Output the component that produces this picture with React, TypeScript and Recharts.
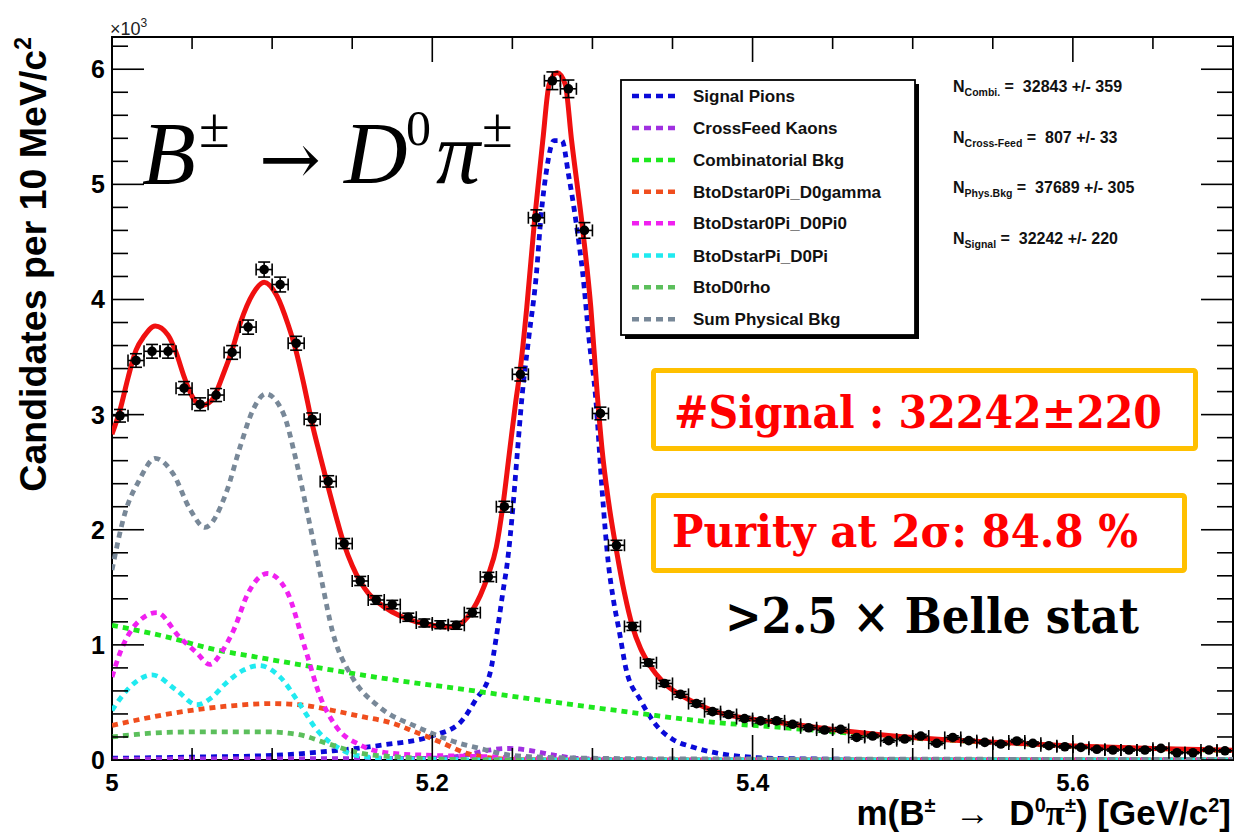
import React from 'react';
import { ComposedChart, Line, Scatter, ErrorBar, XAxis, YAxis, ReferenceArea } from 'recharts';

const W = 1234;
const H = 836;
const PLOT = { left: 112, top: 37, right: 1233, bottom: 760 };
const X_DOMAIN: [number, number] = [5.0, 5.7];
const Y_DOMAIN: [number, number] = [0, 6280];

const SANS = '"Liberation Sans", Arial, Helvetica, sans-serif';
const SERIF = '"Liberation Serif", "Times New Roman", serif';

// axis ticks (minor + major)
const xTicks = [5, 5.05, 5.1, 5.15, 5.2, 5.25, 5.3, 5.35, 5.4, 5.45, 5.5, 5.55, 5.6, 5.65];
const xMajor = [5, 5.2, 5.4, 5.6];
const yTicks = [
  0, 200, 400, 600, 800, 1000, 1200, 1400, 1600, 1800, 2000, 2200, 2400, 2600, 2800, 3000,
  3200, 3400, 3600, 3800, 4000, 4200, 4400, 4600, 4800, 5000, 5200, 5400, 5600, 5800, 6000, 6200,
];
const yMajor = [0, 1000, 2000, 3000, 4000, 5000, 6000];

// data histogram, 10 MeV bins
const binCenters = [
  5.005, 5.015, 5.025, 5.035, 5.045, 5.055, 5.065, 5.075, 5.085, 5.095,
  5.105, 5.115, 5.125, 5.135, 5.145, 5.155, 5.165, 5.175, 5.185, 5.195,
  5.205, 5.215, 5.225, 5.235, 5.245, 5.255, 5.265, 5.275, 5.285, 5.295,
  5.305, 5.315, 5.325, 5.335, 5.345, 5.355, 5.365, 5.375, 5.385, 5.395,
  5.405, 5.415, 5.425, 5.435, 5.445, 5.455, 5.465, 5.475, 5.485, 5.495,
  5.505, 5.515, 5.525, 5.535, 5.545, 5.555, 5.565, 5.575, 5.585, 5.595,
  5.605, 5.615, 5.625, 5.635, 5.645, 5.655, 5.665, 5.675, 5.685, 5.695,
];
const binCounts = [
  2990, 3470, 3550, 3550, 3230, 3090, 3170, 3540, 3760, 4260,
  4130, 3620, 2960, 2420, 1880, 1555, 1390, 1350, 1240, 1190,
  1175, 1170, 1280, 1590, 2200, 3350, 4710, 5900, 5830, 4600,
  3010, 1865, 1160, 845, 665, 570, 490, 420, 395, 360,
  340, 340, 310, 280, 260, 266, 196, 208, 168, 182,
  208, 145, 196, 168, 153, 139, 165, 145, 124, 115,
  110, 93, 87, 87, 87, 101, 63, 63, 87, 80,
];

// fit curves, [mass, candidates]
const totalFit: [number, number][] = [
  [5.0, 2830], [5.005, 3040], [5.01, 3320], [5.015, 3560], [5.02, 3680], [5.027, 3770],
  [5.035, 3690], [5.04, 3540], [5.045, 3330], [5.05, 3160], [5.056, 3080], [5.062, 3120],
  [5.07, 3370], [5.075, 3560], [5.08, 3790], [5.088, 4050], [5.095, 4150], [5.103, 4030],
  [5.11, 3780], [5.115, 3550], [5.12, 3250], [5.125, 2920], [5.13, 2640], [5.135, 2370],
  [5.14, 2110], [5.145, 1870], [5.15, 1690], [5.155, 1550], [5.16, 1450], [5.17, 1330],
  [5.18, 1250], [5.19, 1200], [5.2, 1170], [5.21, 1155], [5.215, 1165], [5.22, 1210],
  [5.225, 1300], [5.23, 1430], [5.235, 1610], [5.24, 1850], [5.244, 2200], [5.248, 2650],
  [5.252, 3100], [5.255, 3400], [5.259, 3930], [5.264, 4710], [5.269, 5380], [5.273, 5870],
  [5.278, 5970], [5.283, 5870], [5.287, 5380], [5.294, 4600], [5.299, 3930], [5.303, 3180],
  [5.306, 2700], [5.31, 2250], [5.315, 1820], [5.32, 1450], [5.325, 1160], [5.33, 970],
  [5.335, 840], [5.345, 665], [5.355, 565], [5.365, 490], [5.375, 430], [5.385, 390],
  [5.4, 355], [5.42, 320], [5.45, 265], [5.5, 195], [5.55, 155], [5.6, 122], [5.65, 100], [5.7, 85],
];
const signalPions: [number, number][] = [
  [5.0, 15], [5.05, 25], [5.1, 40], [5.138, 80], [5.169, 130], [5.2, 210], [5.217, 320],
  [5.227, 520], [5.236, 750], [5.24, 1070], [5.244, 1450], [5.247, 1730], [5.25, 2140],
  [5.253, 2650], [5.256, 3150], [5.26, 3640], [5.265, 4220], [5.268, 4740], [5.271, 5090],
  [5.276, 5380], [5.281, 5380], [5.285, 5090], [5.29, 4650], [5.294, 4220], [5.298, 3640],
  [5.302, 3150], [5.306, 2350], [5.31, 1700], [5.313, 1400], [5.317, 1100], [5.321, 790],
  [5.33, 520], [5.34, 300], [5.35, 180], [5.362, 115], [5.387, 40], [5.42, 12], [5.5, 4], [5.7, 0],
];
const crossFeedKaons: [number, number][] = [
  [5.0, 8], [5.1, 10], [5.2, 15], [5.22, 40], [5.235, 85], [5.248, 100], [5.26, 85],
  [5.275, 45], [5.29, 15], [5.32, 5], [5.4, 0], [5.7, 0],
];
const combinatorial: [number, number][] = [
  [5.0, 1170], [5.034, 1070], [5.061, 970], [5.096, 880], [5.138, 780], [5.179, 690],
  [5.216, 620], [5.267, 520], [5.329, 405], [5.37, 335], [5.42, 280], [5.45, 245],
  [5.5, 190], [5.55, 152], [5.6, 120], [5.65, 97], [5.7, 82],
];
const dstar0D0gamma: [number, number][] = [
  [5.0, 300], [5.02, 360], [5.044, 420], [5.07, 465], [5.1, 490], [5.12, 475], [5.138, 430],
  [5.155, 380], [5.175, 320], [5.19, 240], [5.206, 150], [5.221, 60], [5.235, 20],
  [5.25, 5], [5.3, 0], [5.7, 0],
];
const dstar0D0pi0: [number, number][] = [
  [5.0, 720], [5.005, 930], [5.015, 1180], [5.028, 1280], [5.042, 1070], [5.053, 930],
  [5.061, 830], [5.069, 950], [5.076, 1130], [5.085, 1450], [5.097, 1620], [5.109, 1470],
  [5.121, 950], [5.13, 550], [5.14, 290], [5.155, 130], [5.173, 60], [5.2, 40], [5.23, 30],
  [5.26, 15], [5.3, 5], [5.4, 0], [5.7, 0],
];
const dstarD0pi: [number, number][] = [
  [5.0, 430], [5.006, 550], [5.015, 680], [5.025, 740], [5.04, 610], [5.053, 480],
  [5.062, 540], [5.071, 665], [5.082, 780], [5.092, 820], [5.105, 720], [5.117, 490],
  [5.128, 260], [5.142, 100], [5.15, 50], [5.17, 15], [5.2, 5], [5.25, 0], [5.7, 0],
];
const d0rho: [number, number][] = [
  [5.0, 200], [5.034, 240], [5.06, 245], [5.096, 245], [5.117, 220], [5.134, 145],
  [5.155, 60], [5.18, 25], [5.2, 10], [5.25, 0], [5.7, 0],
];
const physicalBkg: [number, number][] = [
  [5.0, 1650], [5.008, 2140], [5.017, 2430], [5.027, 2620], [5.038, 2490], [5.049, 2170],
  [5.058, 2020], [5.071, 2310], [5.08, 2720], [5.088, 3040], [5.096, 3180], [5.107, 3010],
  [5.115, 2600], [5.123, 2080], [5.13, 1620], [5.138, 1100], [5.15, 720], [5.167, 460],
  [5.19, 290], [5.2, 230], [5.217, 145], [5.227, 110], [5.25, 40], [5.28, 20], [5.35, 10], [5.7, 5],
];

const components = [
  { name: 'Signal Pions', color: '#0a0ad8', points: signalPions },
  { name: 'CrossFeed Kaons', color: '#a030e0', points: crossFeedKaons },
  { name: 'Combinatorial Bkg', color: '#1ee81e', points: combinatorial },
  { name: 'BtoDstar0Pi_D0gamma', color: '#f04e1e', points: dstar0D0gamma },
  { name: 'BtoDstar0Pi_D0Pi0', color: '#f020f0', points: dstar0D0pi0 },
  { name: 'BtoDstarPi_D0Pi', color: '#20eaf0', points: dstarD0pi },
  { name: 'BtoD0rho', color: '#5cbf5c', points: d0rho },
  { name: 'Sum Physical Bkg', color: '#788898', points: physicalBkg },
];

const fitYields = [
  { sub: 'Combi.', val: '32843 +/- 359' },
  { sub: 'Cross-Feed', val: '807 +/- 33' },
  { sub: 'Phys.Bkg', val: '37689 +/- 305' },
  { sub: 'Signal', val: '32242 +/- 220' },
];

const toPts = (arr: [number, number][]) => arr.map(([x, y]) => ({ x, y }));

// Poisson errors on the histogram, half bin width in x
const dataPoints = binCenters.map((x, i) => ({
  x,
  y: binCounts[i],
  ex: 0.005,
  ey: Math.sqrt(binCounts[i]),
}));

const near = (list: number[], v: number) => list.some((m) => Math.abs(m - v) < 1e-6);

// bottom axis tick; also draws the mirrored tick on the top frame
function XTick(props: any) {
  const { x, y, payload } = props;
  const v = payload.value;
  const major = near(xMajor, v);
  const len = major ? 25 : 12;
  return (
    <g>
      <line x1={x} x2={x} y1={y} y2={y - len} stroke="#000" strokeWidth={1.6} />
      <line x1={x} x2={x} y1={PLOT.top} y2={PLOT.top + len} stroke="#000" strokeWidth={1.6} />
      {major && (
        <text x={x} y={y + 31} textAnchor="middle" fontFamily={SANS} fontWeight="bold" fontSize={24} fill="#000">
          {Math.abs(v - 5) < 1e-6 ? '5' : v.toFixed(1)}
        </text>
      )}
    </g>
  );
}

// left axis tick; also draws the mirrored tick on the right frame
function YTick(props: any) {
  const { x, y, payload } = props;
  const v = payload.value;
  const major = near(yMajor, v);
  const len = major ? 32 : 16;
  return (
    <g>
      <line x1={x} x2={x + len} y1={y} y2={y} stroke="#000" strokeWidth={1.6} />
      <line x1={PLOT.right} x2={PLOT.right - len} y1={y} y2={y} stroke="#000" strokeWidth={1.6} />
      {major && (
        <text x={x - 7} y={y + 9} textAnchor="end" fontFamily={SANS} fontWeight="bold" fontSize={25} fill="#000">
          {v / 1000}
        </text>
      )}
    </g>
  );
}

const dataDot = (p: any) => <circle cx={p.cx} cy={p.cy} r={4.8} fill="#000" />;

function Overlay() {
  const rowY = [96, 128, 160, 191.7, 223.3, 255.5, 287.3, 319.3];
  const statY = [92, 143, 193, 244];
  return (
    <svg width={W} height={H} style={{ position: 'absolute', left: 0, top: 0, pointerEvents: 'none' }}>
      {/* x10^3 */}
      <text x={110} y={35} fontFamily={SANS} fontSize={18} fill="#222">
        ×10<tspan dy={-8} fontSize={12}>3</tspan>
      </text>

      {/* y title */}
      <text
        x={46}
        y={37}
        transform="rotate(-90 46 37)"
        textAnchor="end"
        fontFamily={SANS}
        fontWeight="bold"
        fontSize={37.5}
        fill="#000"
      >
        Candidates per 10 MeV/c<tspan dy={-15} fontSize={23}>2</tspan>
      </text>

      {/* x title */}
      <text x={1231} y={825} textAnchor="end" fontFamily={SANS} fontWeight="bold" fontSize={35} fill="#000" style={{ whiteSpace: 'pre' }}>
        m(B<tspan dy={-13} fontSize={20}>±</tspan>
        <tspan dy={13}>{'  →  D'}</tspan>
        <tspan dy={-13} fontSize={20}>0</tspan>
        <tspan dy={13} fontFamily={SERIF}>π</tspan>
        <tspan dy={-13} fontSize={20}>±</tspan>
        <tspan dy={13}>) [GeV/c</tspan>
        <tspan dy={-13} fontSize={20}>2</tspan>
        <tspan dy={13}>]</tspan>
      </text>

      {/* decay label */}
      <g fontFamily={SERIF} fill="#000">
        <text x={142} y={183} fontStyle="italic" fontSize={88}>B</text>
        <text x={199} y={147} fontSize={56}>±</text>
        <text x={259} y={184} fontSize={72} textLength={62} lengthAdjust="spacingAndGlyphs" fontFamily='"DejaVu Serif", serif'>→</text>
        <text x={344} y={183} fontStyle="italic" fontSize={88}>D</text>
        <text x={406} y={145} fontSize={50}>0</text>
        <text x={436} y={183} fontStyle="italic" fontSize={88}>π</text>
        <text x={482} y={147} fontSize={56}>±</text>
      </g>

      {/* legend */}
      <rect x={625} y={84} width={294} height={255} fill="#000" />
      <rect x={621} y={80} width={294} height={255} fill="#fff" stroke="#000" strokeWidth={1.8} />
      {components.map((c, i) => (
        <g key={c.name}>
          <line x1={632} x2={680} y1={rowY[i]} y2={rowY[i]} stroke={c.color} strokeWidth={4.5} strokeDasharray="7 5" />
          <text x={693} y={rowY[i] + 6} fontFamily={SANS} fontWeight="bold" fontSize={17} fill="#111">
            {c.name}
          </text>
        </g>
      ))}

      {/* fit yields */}
      {fitYields.map((r, i) => (
        <text key={r.sub} x={953} y={statY[i]} fontFamily={SANS} fontWeight="bold" fontSize={16} fill="#111" style={{ whiteSpace: 'pre' }}>
          N<tspan dy={4} fontSize={10.5}>{r.sub}</tspan>
          <tspan dy={-4} fontSize={16}>{' =  ' + r.val}</tspan>
        </text>
      ))}

      {/* annotation boxes */}
      <rect x={653.5} y={370.5} width={542} height={78} rx={2} fill="#fff" stroke="#ffc000" strokeWidth={5} />
      <text x={674} y={428} fontFamily='"DejaVu Serif", serif' fontWeight="bold" fontSize={44} fill="#ff0000" textLength={488} lengthAdjust="spacingAndGlyphs">
        #Signal : 32242±220
      </text>
      <rect x={653.5} y={495.5} width={531} height={75} rx={2} fill="#fff" stroke="#ffc000" strokeWidth={5} />
      <text x={672} y={547} fontFamily='"DejaVu Serif", serif' fontWeight="bold" fontSize={44} fill="#ff0000" textLength={466} lengthAdjust="spacingAndGlyphs">
        Purity at 2σ: 84.8 %
      </text>
      <text x={725} y={633} fontFamily='"DejaVu Serif", serif' fontWeight="bold" fontSize={48} fill="#000" textLength={414} lengthAdjust="spacingAndGlyphs">
        {'>2.5 × Belle stat'}
      </text>
    </svg>
  );
}

const X_AXIS_H = 30;
const Y_AXIS_W = 60;

export default function App() {
  return (
    <div style={{ position: 'absolute', left: 0, top: 0, width: W, height: H, background: '#fff' }}>
      <ComposedChart
        width={W}
        height={H}
        margin={{
          top: PLOT.top,
          right: W - PLOT.right,
          bottom: H - PLOT.bottom - X_AXIS_H,
          left: PLOT.left - Y_AXIS_W,
        }}
      >
        <XAxis
          type="number"
          dataKey="x"
          domain={X_DOMAIN}
          ticks={xTicks}
          interval={0}
          allowDataOverflow
          height={X_AXIS_H}
          tickSize={0}
          tickMargin={0}
          axisLine={false}
          tickLine={false}
          tick={<XTick />}
        />
        <YAxis
          type="number"
          domain={Y_DOMAIN}
          ticks={yTicks}
          interval={0}
          allowDataOverflow
          width={Y_AXIS_W}
          tickSize={0}
          tickMargin={0}
          axisLine={false}
          tickLine={false}
          tick={<YTick />}
        />
        <ReferenceArea x1={X_DOMAIN[0]} x2={X_DOMAIN[1]} y1={Y_DOMAIN[0]} y2={Y_DOMAIN[1]} fill="none" stroke="#000" strokeWidth={2} fillOpacity={0} />
        {components.map((c) => (
          <Line
            key={c.name}
            data={toPts(c.points)}
            dataKey="y"
            type="monotone"
            stroke={c.color}
            strokeWidth={4.8}
            strokeDasharray="6 5"
            dot={false}
            activeDot={false}
            isAnimationActive={false}
          />
        ))}
        <Line
          data={toPts(totalFit)}
          dataKey="y"
          type="monotone"
          stroke="#f01010"
          strokeWidth={5}
          dot={false}
          activeDot={false}
          isAnimationActive={false}
        />
        <Scatter data={dataPoints} dataKey="y" shape={dataDot} isAnimationActive={false}>
          <ErrorBar dataKey="ex" direction="x" width={6} stroke="#000" strokeWidth={1.6} isAnimationActive={false} />
          <ErrorBar dataKey="ey" direction="y" width={6} stroke="#000" strokeWidth={1.6} isAnimationActive={false} />
        </Scatter>
      </ComposedChart>
      <Overlay />
    </div>
  );
}
